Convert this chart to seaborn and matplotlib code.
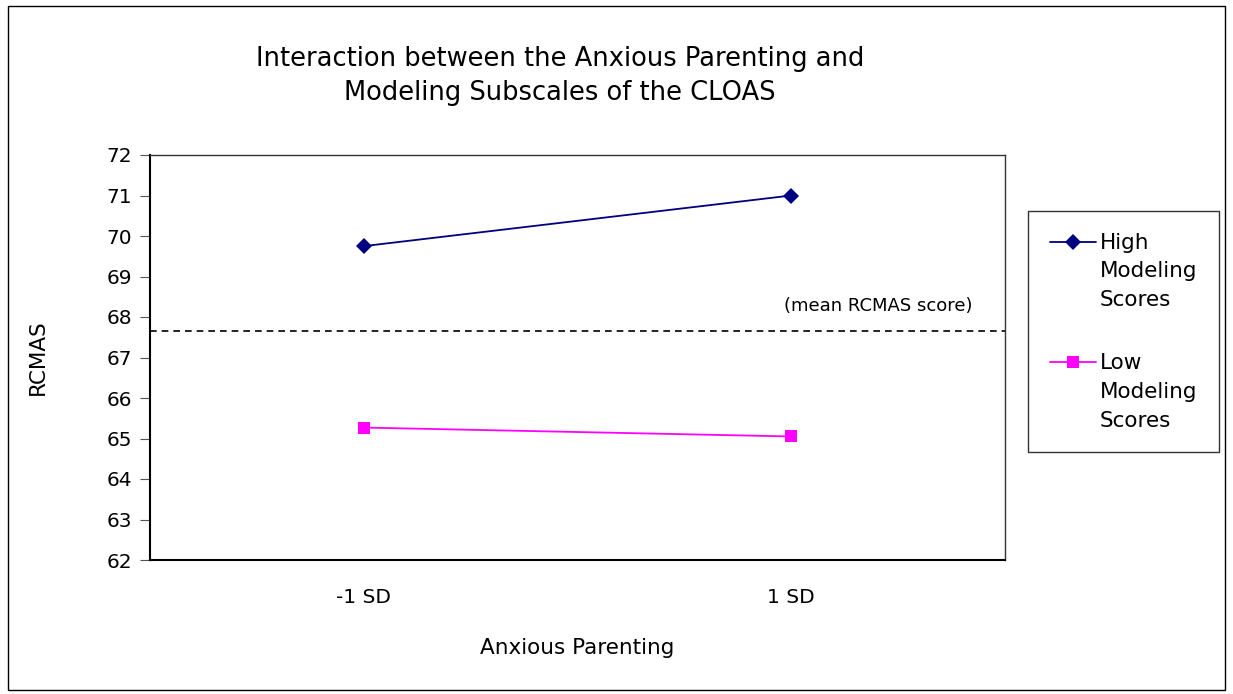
import numpy as np
import pandas as pd
import matplotlib.pyplot as plt
import seaborn as sns
from matplotlib.patches import Rectangle
from matplotlib.legend_handler import HandlerLine2D

# Data
levels = ["-1 SD", "1 SD"]
high_scores = [69.75, 71.0]
low_scores = [65.27, 65.05]
mean_rcmas = 67.65
group_names = ["High\nModeling\nScores", "Low\nModeling\nScores"]

df = pd.DataFrame({
    "Anxious Parenting": levels * 2,
    "RCMAS": high_scores + low_scores,
    "group": [group_names[0]] * 2 + [group_names[1]] * 2,
})

sns.set_style("white")
plt.rcParams['font.family'] = ['DejaVu Sans']
plt.rcParams['text.color'] = 'black'
plt.rcParams['axes.labelcolor'] = 'black'
plt.rcParams['xtick.color'] = 'black'
plt.rcParams['ytick.color'] = 'black'

LEG_SIZE = 15.5
LEG_SPACING = 1.55


class FirstLineHandler(HandlerLine2D):
    # put the legend line next to the first line of a multi-line label
    def create_artists(self, legend, orig_handle, xdescent, ydescent, width, height, fontsize, trans):
        artists = super().create_artists(legend, orig_handle, xdescent, ydescent,
                                         width, height, fontsize, trans)
        shift = fontsize * 1.40
        for a in artists:
            a.set_ydata(np.asarray(a.get_ydata()) + shift)
        return artists


fig = plt.figure(figsize=(12.33, 6.94), dpi=100)
ax = fig.add_axes([150 / 1233, 1 - 560 / 694, 855 / 1233, 405 / 694])

sns.lineplot(data=df, x="Anxious Parenting", y="RCMAS", hue="group", style="group",
             palette={group_names[0]: "#000080", group_names[1]: "#ff00ff"},
             markers={group_names[0]: "D", group_names[1]: "s"},
             dashes=False, markersize=8, linewidth=1.3, markeredgewidth=0, ax=ax)

ax.axhline(mean_rcmas, color="black", linestyle=(0, (4, 3)), linewidth=1.2)
ax.text(1.425, 68.27, "(mean RCMAS score)", ha="right", va="center", fontsize=13)

ax.set_xlim(-0.5, 1.5)
ax.set_ylim(62, 72)
ax.set_yticks(range(62, 73))
ax.set_xticks([0, 1])
ax.set_xticklabels(levels)
ax.set_xticks([-0.5, 0.5, 1.5], minor=True)
ax.tick_params(axis="x", which="major", length=0, labelsize=14.5, pad=20)
ax.tick_params(axis="x", which="minor", length=7, color="#555555", direction="out")
ax.tick_params(axis="y", length=7, color="#555555", direction="out", labelsize=14.5, pad=6, left=True)
for side in ["left", "bottom"]:
    ax.spines[side].set_color("black")
    ax.spines[side].set_linewidth(1.5)
for side in ["top", "right"]:
    ax.spines[side].set_color("#333333")
    ax.spines[side].set_linewidth(1.0)

ax.set_xlabel("Anxious Parenting", fontsize=15.5)
ax.set_ylabel("RCMAS", fontsize=15.5)
ax.xaxis.set_label_coords(0.5, (560 - 638) / 405)
ax.yaxis.set_label_coords((38 - 150) / 855, 0.5)
ax.yaxis.label.set_va("center")

fig.text(560 / 1233, 1 - 76 / 694, "Interaction between the Anxious Parenting and\nModeling Subscales of the CLOAS",
         ha="center", va="center", fontsize=18.5, linespacing=1.45)

handles, labels = ax.get_legend_handles_labels()
leg = ax.legend(handles, labels, loc="upper left", bbox_to_anchor=(1028 / 1233, 1 - 211 / 694),
                bbox_transform=fig.transFigure, fontsize=LEG_SIZE, frameon=True, fancybox=False,
                edgecolor="black", borderpad=1.0, labelspacing=2.0, handlelength=2.15,
                handletextpad=0.2, borderaxespad=0,
                handler_map={h: FirstLineHandler() for h in handles})
leg.get_frame().set_linewidth(1.0)
for t in leg.get_texts():
    t.set_linespacing(LEG_SPACING)

fig.patches.append(Rectangle((8 / 1233, 4 / 694), 1217 / 1233, 684 / 694, transform=fig.transFigure,
                             fill=False, edgecolor="black", linewidth=1.0))

fig.savefig("out.png", dpi=100)
